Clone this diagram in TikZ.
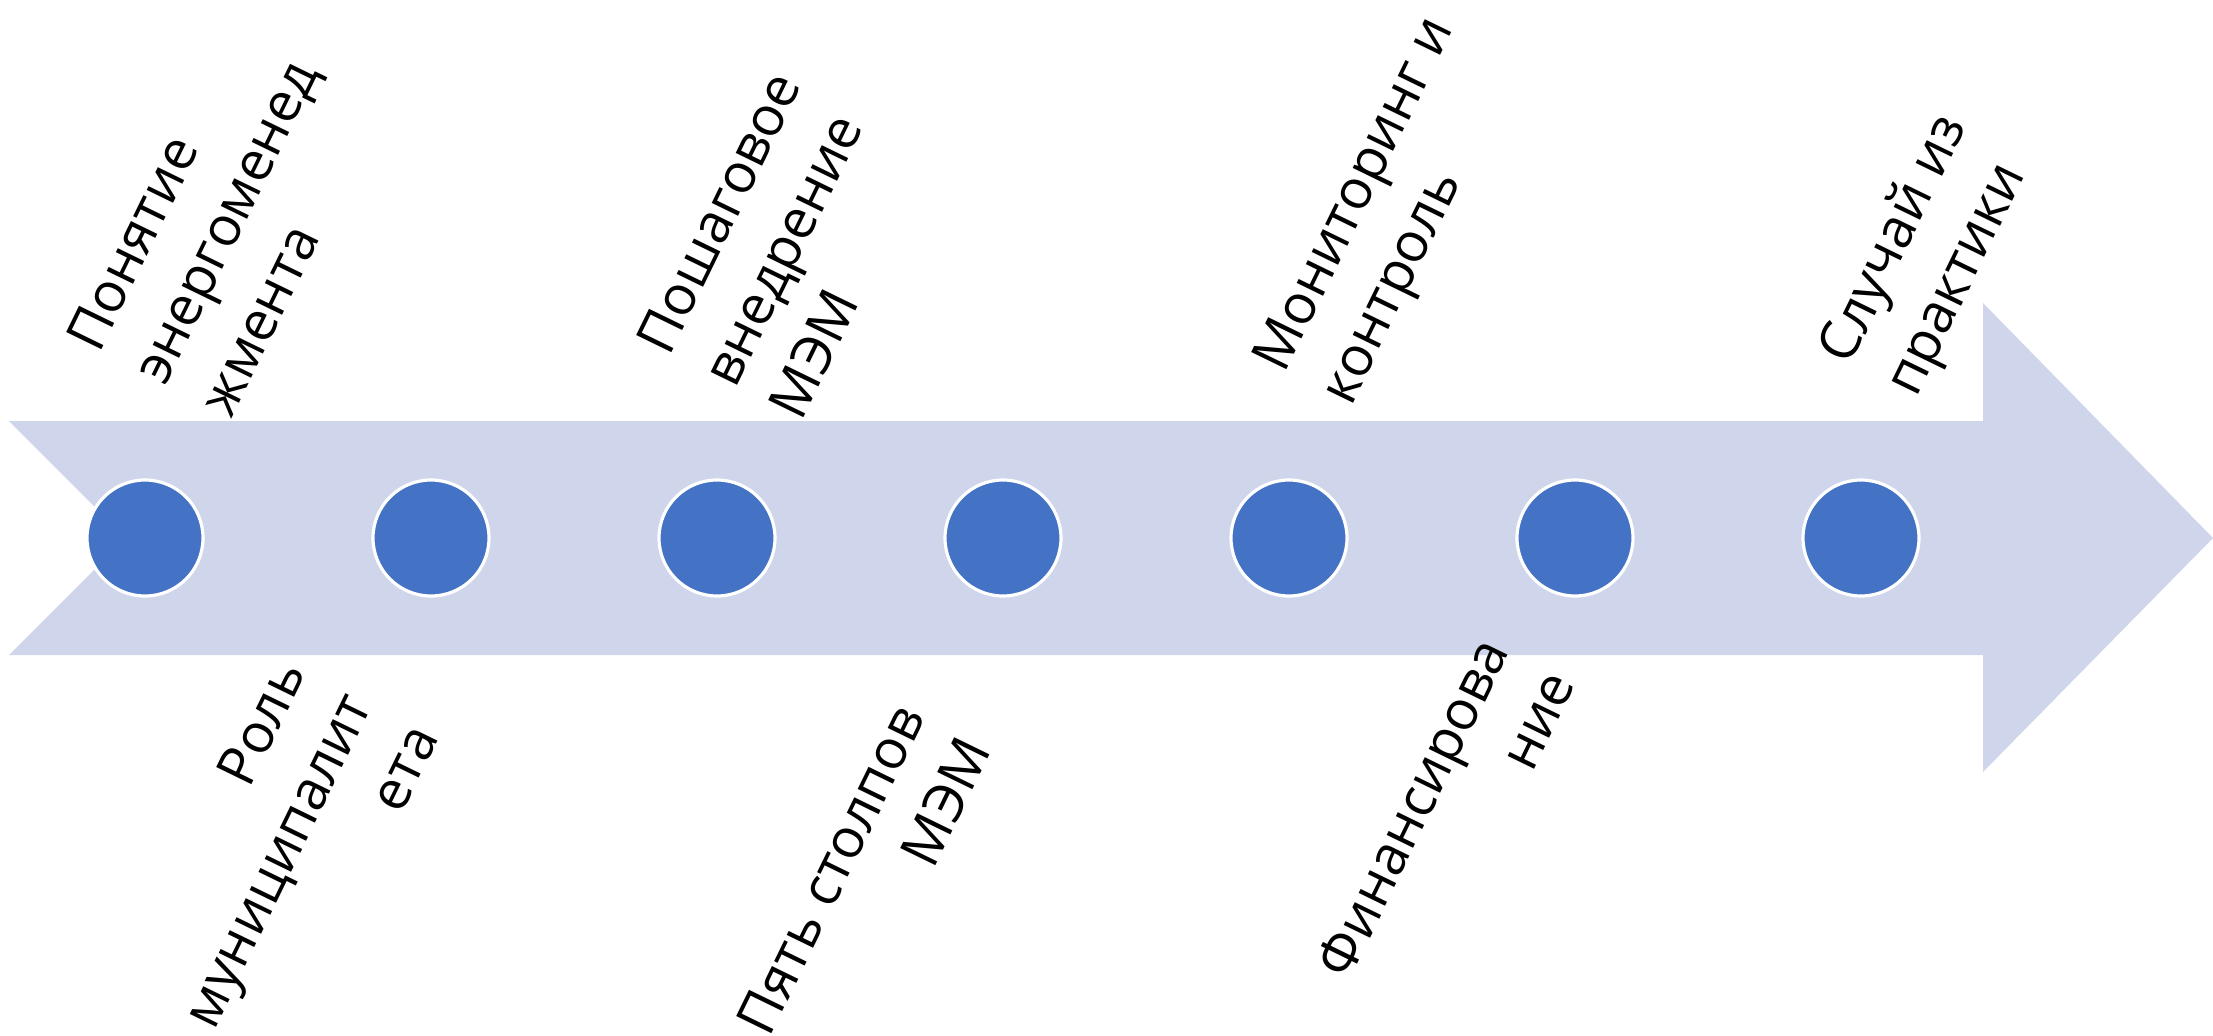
\documentclass[tikz,border=0pt]{standalone}
\usepackage{fontspec}
\setmainfont{Open Sans}
\definecolor{arrowfill}{HTML}{CFD5EA}
\definecolor{dotfill}{HTML}{4472C4}
\begin{document}
\begin{tikzpicture}[
    dot/.style = {circle, fill=dotfill, draw=white, line width=0.9pt, minimum size=1.16cm, inner sep=0pt},
    lab/.style = {rotate=64, inner sep=0pt, font=\fontsize{15.6}{21}\selectfont},
    toplab/.style = {lab, align=left, anchor=west},
    botlab/.style = {lab, align=right, anchor=east}
  ]
  \useasboundingbox (0, 0) rectangle (22.13, 10.35);

  \fill [arrowfill] (0.09, 6.14) -- (19.83, 6.14) -- (19.83, 7.32) -- (22.13, 4.97)
    -- (19.83, 2.63) -- (19.83, 3.80) -- (0.09, 3.80) -- (1.26, 4.97) -- cycle;

  \foreach \i in {1, ..., 7}
    \node [dot] (dot\i) at ({1.45 + 2.86 * (\i - 1)}, 4.97) {};

  \node [toplab] (lab1) at (1.48, 6.56) {Понятие\\энергоменед\\жмента};
  \node [botlab] (lab2) at (3.56, 3.39) {Роль\\муниципалит\\ета};
  \node [toplab] (lab3) at (7.18, 6.53) {Пошаговое\\внедрение\\МЭМ};
  \node [botlab] (lab4) at (9.42, 3.10) {Пять столпов\\МЭМ};
  \node [toplab] (lab5) at (13.06, 6.49) {Мониторинг и\\контроль};
  \node [botlab] (lab6) at (15.26, 3.77) {Финансирова\\ние};
  \node [toplab] (lab7) at (18.70, 6.58) {Случай из\\практики};
\end{tikzpicture}
\end{document}
